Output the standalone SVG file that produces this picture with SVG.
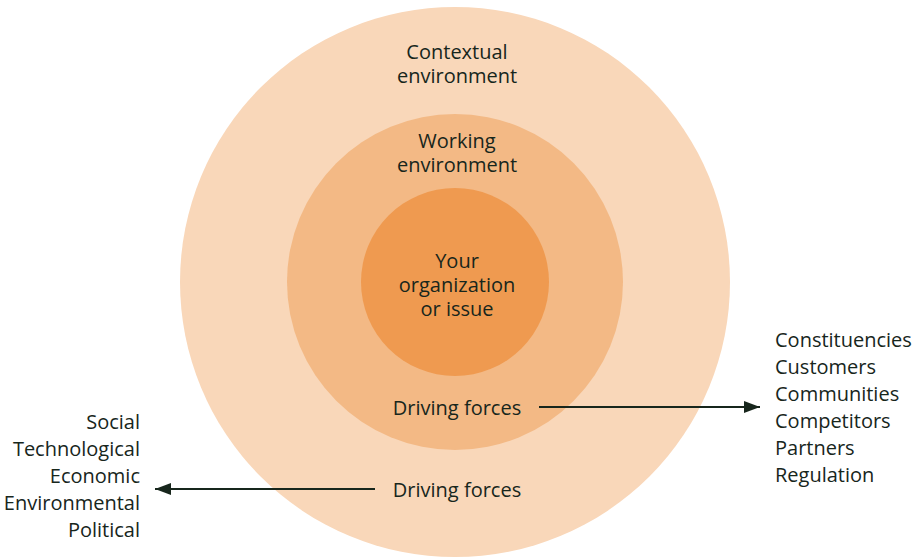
<svg xmlns="http://www.w3.org/2000/svg" width="916" height="557" viewBox="0 0 916 557">
<style>
text{font-family:"Open Sans","Noto Sans","DejaVu Sans",sans-serif;font-size:20px;fill:#17261c}
.c{text-anchor:middle}
.r{text-anchor:end}
.ln{stroke:#17261c;stroke-width:2;fill:none}
</style>
<defs>
<marker id="ah" markerWidth="16" markerHeight="12" refX="16" refY="6" orient="auto" markerUnits="userSpaceOnUse">
<path d="M0,0 L16,6 L0,12 Z" fill="#17261c"/>
</marker>
</defs>
<rect width="916" height="557" fill="#ffffff"/>
<g id="contextual">
<circle cx="455" cy="282" r="275" fill="#F9D7B9"/>
<text class="c" x="457" y="59">Contextual</text>
<text class="c" x="457" y="83">environment</text>
<text class="c" x="457" y="497">Driving forces</text>
</g>
<g id="working">
<circle cx="455" cy="282" r="168" fill="#F3B985"/>
<text class="c" x="457" y="148">Working</text>
<text class="c" x="457" y="172">environment</text>
<text class="c" x="457" y="415">Driving forces</text>
</g>
<g id="organization">
<circle cx="455" cy="282" r="94" fill="#EF9A50"/>
<text class="c" x="457" y="268">Your</text>
<text class="c" x="457" y="292">organization</text>
<text class="c" x="457" y="316">or issue</text>
</g>
<g id="external-list">
<text class="r" x="140" y="429">Social</text>
<text class="r" x="140" y="456">Technological</text>
<text class="r" x="140" y="483">Economic</text>
<text class="r" x="140" y="510">Environmental</text>
<text class="r" x="140" y="537">Political</text>
</g>
<g id="working-list">
<text x="775" y="347">Constituencies</text>
<text x="775" y="374">Customers</text>
<text x="775" y="401">Communities</text>
<text x="775" y="428">Competitors</text>
<text x="775" y="455">Partners</text>
<text x="775" y="482">Regulation</text>
</g>
<g id="connectors">
<line class="ln" x1="539" y1="407" x2="760" y2="407" marker-end="url(#ah)"/>
<line class="ln" x1="375" y1="489" x2="155" y2="489" marker-end="url(#ah)"/>
</g>
</svg>
